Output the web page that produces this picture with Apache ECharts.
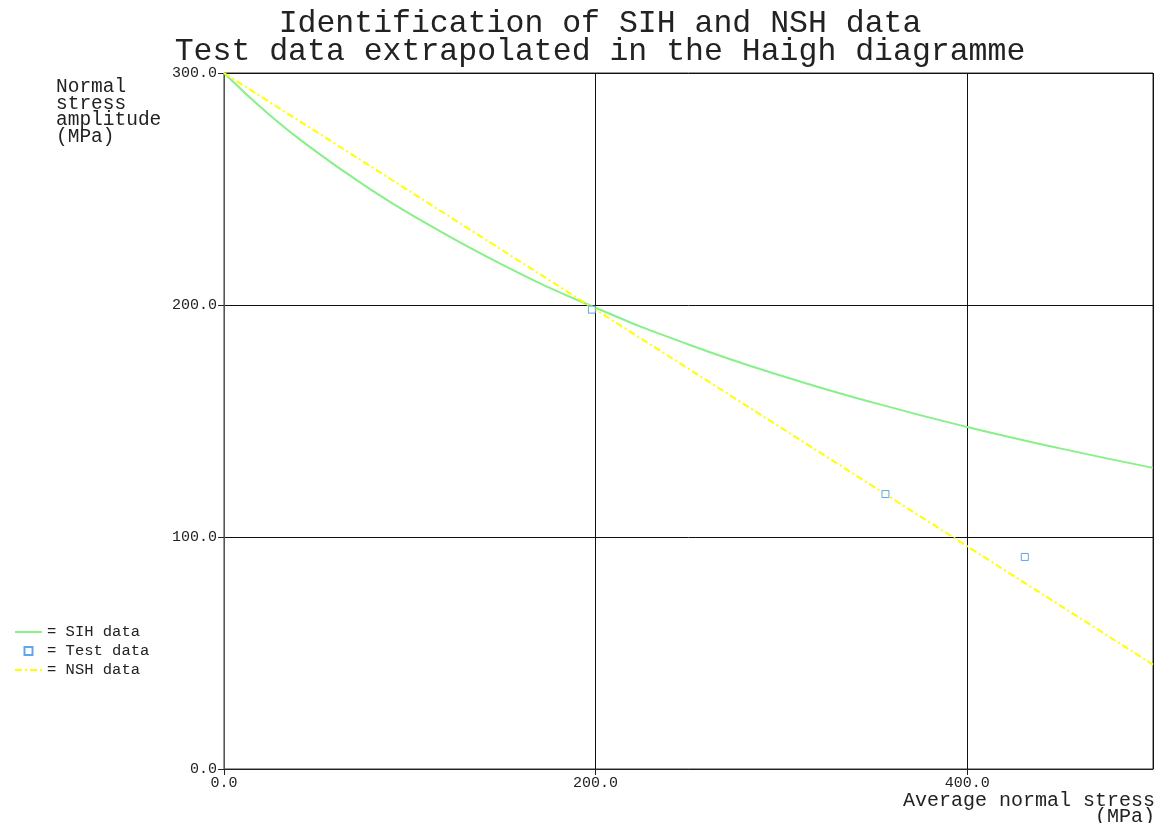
<!DOCTYPE html>
<html>
<head>
<meta charset="utf-8">
<script src="https://cdn.jsdelivr.net/npm/echarts@6/dist/echarts.min.js"></script>
<style>
  html, body { margin: 0; padding: 0; background: #fff; }
  #chart { width: 1160px; height: 823px; }
</style>
</head>
<body>
<div id="chart"></div>
<script>
const sihData = [
  [0, 300], [25, 281.6], [50, 265.9], [75, 251.9], [100, 239.3],
  [150, 217.3], [200, 198.8], [250, 183], [300, 169.5], [350, 157.8],
  [400, 147.4], [450, 138.2], [500, 129.8]
]
const nshData = [
  [0, 300], [100, 249], [200, 198], [300, 147], [400, 96], [500, 45]
]
const testData = [
  [198, 198], [356, 118.5], [431, 91.4]
]
const seriesNames = ['SIH data', 'Test data', 'NSH data']
const xTicks = { min: 0, max: 500, interval: 200 }
const yTicks = { min: 0, max: 300, interval: 100 }

const mono = 'Liberation Mono'
const chart = echarts.init(document.getElementById('chart'))

const option = {
  backgroundColor: '#fff',
  animation: false,
  title: {
    text: 'Identification of SIH and NSH data\nTest data extrapolated in the Haigh diagramme',
    left: 595,
    textAlign: 'center',
    top: 5,
    textStyle: {
      fontFamily: mono,
      fontSize: 31.5,
      fontWeight: 'normal',
      color: '#222',
      lineHeight: 28
    }
  },
  legend: {
    orient: 'vertical',
    left: 10,
    top: 619,
    itemWidth: 27,
    itemHeight: 8,
    itemGap: 3,
    formatter: '= {name}',
    textStyle: { fontFamily: mono, fontSize: 15.5, color: '#222' },
    data: [
      { name: seriesNames[0], icon: 'path://M0,0h27v2h-27z' },
      { name: seriesNames[1], icon: 'path://M0,0h8v8h-8z' },
      { name: seriesNames[2], icon: 'path://M0,0h7v2h-7z M10,0h2v2h-2z M15,0h7v2h-7z M25,0h2v2h-2z' }
    ]
  },
  grid: {
    left: 224,
    right: 7,
    top: 73,
    bottom: 54,
    outerBoundsMode: 'none',
    show: true,
    borderColor: '#333',
    borderWidth: 1
  },
  xAxis: {
    type: 'value',
    min: xTicks.min,
    max: xTicks.max,
    interval: xTicks.interval,
    axisLine: { show: true, lineStyle: { color: '#222' } },
    axisTick: { show: true, length: 6, lineStyle: { color: '#222' } },
    axisLabel: {
      fontFamily: mono,
      fontSize: 15,
      color: '#222',
      margin: 7,
      showMaxLabel: false,
      formatter: v => v.toFixed(1)
    },
    splitLine: { show: true, lineStyle: { color: '#111', width: 1 } }
  },
  yAxis: {
    type: 'value',
    min: yTicks.min,
    max: yTicks.max,
    interval: yTicks.interval,
    axisLine: { show: true, lineStyle: { color: '#555' } },
    axisTick: { show: true, length: 6, lineStyle: { color: '#222' } },
    axisLabel: {
      fontFamily: mono,
      fontSize: 15,
      color: '#222',
      margin: 7,
      formatter: v => v.toFixed(1)
    },
    splitLine: { show: true, lineStyle: { color: '#111', width: 1 } }
  },
  graphic: [
    {
      type: 'text',
      left: 56,
      top: 77,
      style: {
        text: 'Normal\nstress\namplitude\n(MPa)',
        font: '19.5px "Liberation Mono"',
        lineHeight: 16.5,
        fill: '#222'
      }
    },
    {
      type: 'text',
      right: 5,
      top: 791,
      style: {
        text: 'Average normal stress',
        font: '20px "Liberation Mono"',
        fill: '#222'
      }
    },
    {
      type: 'text',
      right: 5,
      top: 807,
      style: {
        text: '(MPa)',
        font: '20px "Liberation Mono"',
        fill: '#222'
      }
    }
  ],
  series: [
    {
      name: seriesNames[0],
      type: 'line',
      data: sihData,
      smooth: true,
      symbol: 'none',
      lineStyle: { color: '#88f088', width: 2 },
      itemStyle: { color: '#88f088' },
      z: 3
    },
    {
      name: seriesNames[1],
      type: 'scatter',
      data: testData,
      symbol: 'rect',
      symbolSize: 7,
      itemStyle: { color: '#fff', borderColor: '#3a8ee6', borderWidth: 1 },
      z: 5
    },
    {
      name: seriesNames[2],
      type: 'line',
      data: nshData,
      symbol: 'none',
      lineStyle: { color: '#ffff00', width: 2, type: [7, 3, 2, 3] },
      itemStyle: { color: '#ffff00' },
      z: 4
    }
  ]
}

chart.setOption(option)
</script>
</body>
</html>
